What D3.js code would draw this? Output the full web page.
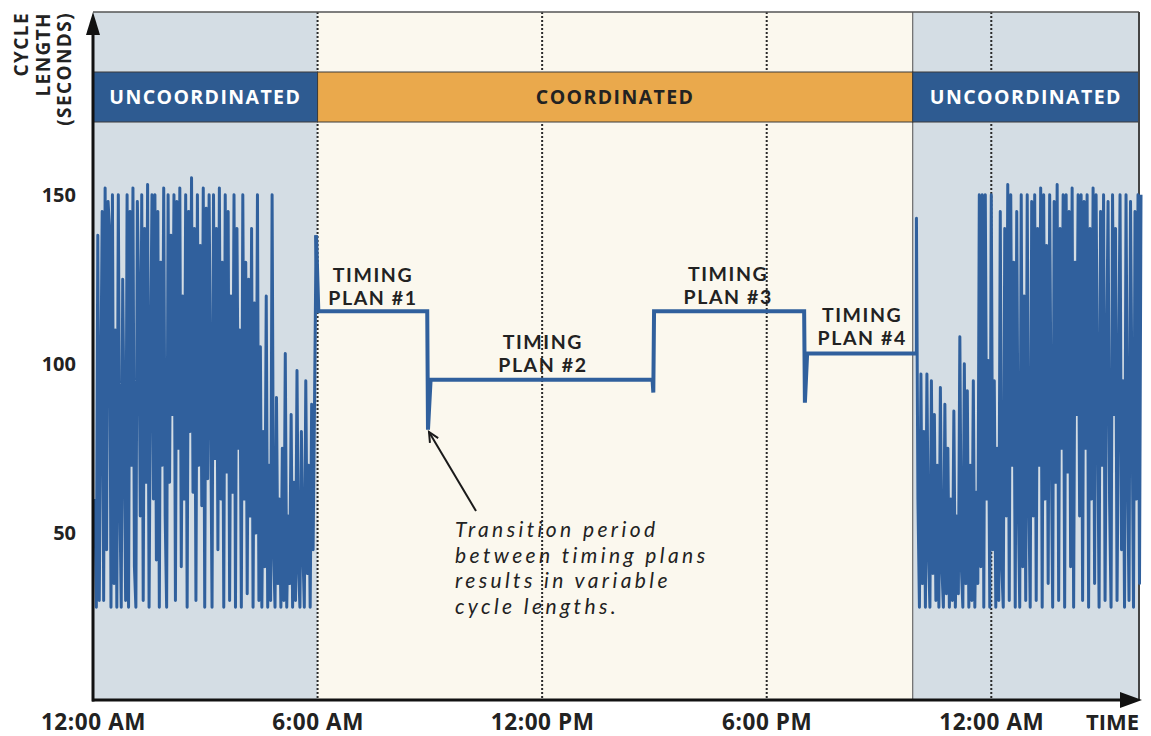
<!DOCTYPE html>
<html>
<head>
<meta charset="utf-8">
<script src="https://cdn.jsdelivr.net/npm/d3@7"></script>
<style>
  body { margin: 0; background: #ffffff; }
  svg { display: block; font-family: "Open Sans", "Noto Sans", sans-serif; }
</style>
</head>
<body>
<script>
// ---------- data ----------
const xTickHours = [0, 6, 12, 18, 24];
const xTickLabels = ["12:00 AM", "6:00 AM", "12:00 PM", "6:00 PM", "12:00 AM"];
const yTicks = [50, 100, 150];

const phaseLabels = ["UNCOORDINATED", "COORDINATED", "UNCOORDINATED"];
const phaseStart = [0, 6, 21.9];
const phaseEnd = [6, 21.9, 28];

// uncoordinated cycle lengths, midnight to ~6 AM (seconds)
const leftHours = [0.05, 5.92];
const leftValues = [
  60, 28, 138, 30, 90, 145, 30, 152, 45, 148,
  140, 28, 150, 35, 110, 28, 150, 62, 28, 125,
  80, 30, 150, 28, 145, 70, 152, 40, 28, 148,
  118, 55, 150, 30, 140, 65, 153, 28, 100, 150,
  60, 150, 42, 145, 28, 130, 70, 152, 55, 28,
  150, 65, 138, 85, 150, 30, 148, 75, 152, 40,
  120, 60, 150, 28, 145, 80, 155, 62, 140, 30,
  150, 70, 135, 58, 152, 28, 146, 66, 150, 90,
  28, 150, 72, 140, 45, 152, 60, 130, 28, 150,
  68, 145, 30, 120, 62, 150, 28, 140, 75, 110,
  28, 150, 60, 130, 32, 125, 55, 140, 28, 118,
  50, 150, 30, 105, 28, 80, 40, 120, 28, 70,
  30, 150, 45, 28, 90, 35, 60, 28, 75, 30,
  103, 28, 55, 35, 85, 28, 65, 30, 98, 40,
  28, 80, 45, 28, 95, 38, 70, 28, 88, 45, 90
];

// coordinated period: timing plans 1-4 with transitions
const coordHours  = [5.96, 6.02, 8.93, 8.95, 9.02, 14.95, 14.97, 14.99, 19.0, 19.02, 19.08, 22.0];
const coordValues = [138, 115.5, 115.5, 80.5, 95.3, 95.3, 91.5, 115.5, 115.5, 88.5, 103, 103];

// uncoordinated cycle lengths, 10 PM to 4 AM
const rightHours = [22.0, 28.0];
const rightValues = [
  143, 60, 28, 97, 35, 80, 28, 97, 45, 28,
  95, 38, 85, 30, 70, 28, 93, 40, 28, 88,
  32, 75, 28, 60, 30, 86, 28, 55, 32, 108,
  40, 28, 100, 35, 92, 28, 70, 30, 95, 28,
  62, 35, 150, 40, 150, 28, 150, 60, 101, 28,
  150, 45, 95, 28, 75, 30, 145, 40, 28, 140,
  55, 153, 30, 150, 70, 130, 28, 145, 60, 28,
  150, 40, 120, 30, 150, 62, 28, 148, 55, 150,
  30, 140, 70, 152, 28, 150, 60, 135, 35, 150,
  80, 28, 148, 65, 153, 30, 140, 75, 150, 28,
  150, 68, 145, 40, 152, 28, 130, 85, 150, 55,
  150, 30, 148, 75, 150, 28, 140, 60, 152, 35,
  150, 90, 28, 145, 70, 150, 30, 100, 148, 60,
  28, 150, 85, 140, 30, 92, 150, 45, 95, 28,
  150, 70, 30, 148, 88, 28, 145, 60, 150, 35, 150
];

const planLabels = ["PLAN #1", "PLAN #2", "PLAN #3", "PLAN #4"];
const planHours = [7.48, 12.02, 16.97, 20.55];
const planValues = [124.2, 104.5, 124.5, 112.4];

const noteLines = ["Transition period", "between timing plans", "results in variable", "cycle lengths."];

// ---------- drawing ----------
const W = 1151, H = 736;
const svg = d3.select("body").append("svg").attr("width", W).attr("height", H);

const x = d3.scaleLinear().domain([0, 28]).range([93, 1141]);
const y = d3.scaleLinear().domain([0, 204]).range([702, 12]);
const plotTop = 12, plotBottom = 700, plotRight = 1139;

const blue = "#30609d";
const bgUnc = "#d4dde4", bgCoord = "#fbf8ee";

// phase backgrounds
svg.selectAll("rect.bg").data(phaseLabels).join("rect")
  .attr("class", "bg")
  .attr("x", (d, i) => x(phaseStart[i]))
  .attr("width", (d, i) => Math.min(x(phaseEnd[i]), plotRight) - x(phaseStart[i]))
  .attr("y", plotTop).attr("height", plotBottom - plotTop)
  .attr("fill", (d, i) => i === 1 ? bgCoord : bgUnc);

// dotted gridlines
svg.selectAll("line.grid").data(xTickHours.slice(1)).join("line")
  .attr("class", "grid")
  .attr("x1", d => x(d)).attr("x2", d => x(d))
  .attr("y1", plotTop).attr("y2", plotBottom)
  .attr("stroke", "#2a2a2a").attr("stroke-width", 2).attr("stroke-dasharray", "2,2");

// boundary line at end of coordination
svg.append("line")
  .attr("x1", x(phaseStart[2])).attr("x2", x(phaseStart[2]))
  .attr("y1", plotTop).attr("y2", plotBottom)
  .attr("stroke", "#6a6a6a").attr("stroke-width", 1.2);

// banners
const bannerTop = 72, bannerBot = 122;
svg.selectAll("rect.banner").data(phaseLabels).join("rect")
  .attr("class", "banner")
  .attr("x", (d, i) => x(phaseStart[i]))
  .attr("width", (d, i) => Math.min(x(phaseEnd[i]), plotRight) - x(phaseStart[i]))
  .attr("y", bannerTop).attr("height", bannerBot - bannerTop)
  .attr("fill", (d, i) => i === 1 ? "#eaa94c" : "#2e5b91")
  .attr("stroke", "#3a3a3a").attr("stroke-width", 1);

svg.selectAll("text.banner").data(phaseLabels).join("text")
  .attr("class", "banner")
  .attr("x", (d, i) => (x(phaseStart[i]) + Math.min(x(phaseEnd[i]), plotRight)) / 2)
  .attr("y", 104)
  .attr("text-anchor", "middle")
  .attr("font-size", 19.5).attr("font-weight", 700)
  .attr("letter-spacing", 1.4)
  .attr("fill", (d, i) => i === 1 ? "#222" : "#ffffff")
  .text(d => d);

// top & right border
svg.append("line").attr("x1", 93).attr("x2", plotRight).attr("y1", plotTop).attr("y2", plotTop)
  .attr("stroke", "#555").attr("stroke-width", 1.5);
svg.append("line").attr("x1", plotRight).attr("x2", plotRight).attr("y1", plotTop).attr("y2", plotBottom)
  .attr("stroke", "#444").attr("stroke-width", 2);

// series
const line = d3.line().x(d => x(d[0])).y(d => y(d[1]));
function spread(range, vals) {
  const n = vals.length;
  return vals.map((v, i) => [range[0] + (range[1] - range[0]) * i / (n - 1), v]);
}
const leftPts = spread(leftHours, leftValues);
const rightPts = spread(rightHours, rightValues);
const coordPts = coordHours.map((h, i) => [h, coordValues[i]]);

svg.append("path").datum(leftPts.concat([coordPts[0]]))
  .attr("d", line).attr("fill", "none").attr("stroke", blue)
  .attr("stroke-width", 3).attr("stroke-linejoin", "round");
svg.append("path").datum([coordPts[coordPts.length - 1]].concat(rightPts))
  .attr("d", line).attr("fill", "none").attr("stroke", blue)
  .attr("stroke-width", 3).attr("stroke-linejoin", "round");
svg.append("path").datum(coordPts)
  .attr("d", line).attr("fill", "none").attr("stroke", blue)
  .attr("stroke-width", 4).attr("stroke-linejoin", "miter");

// timing plan labels (two separate lines)
svg.selectAll("text.plan1").data(planLabels).join("text")
  .attr("class", "plan1")
  .attr("x", (d, i) => x(planHours[i])).attr("y", (d, i) => y(planValues[i]))
  .attr("text-anchor", "middle")
  .attr("font-family", "Lato, sans-serif")
  .attr("font-size", 19.5).attr("font-weight", 700).attr("fill", "#222")
  .attr("letter-spacing", 1.6)
  .text("TIMING");
svg.selectAll("text.plan2").data(planLabels).join("text")
  .attr("class", "plan2")
  .attr("x", (d, i) => x(planHours[i])).attr("y", (d, i) => y(planValues[i]) + 23.5)
  .attr("text-anchor", "middle")
  .attr("font-family", "Lato, sans-serif")
  .attr("font-size", 19.5).attr("font-weight", 700).attr("fill", "#222")
  .attr("letter-spacing", 1.6)
  .text(d => d);

// annotation
svg.append("g").selectAll("text").data(noteLines).join("text")
  .attr("x", 455).attr("y", (d, i) => 537 + i * 25.5)
  .attr("font-family", "Lato, sans-serif")
  .attr("font-size", 21).attr("font-style", "italic").attr("fill", "#222")
  .attr("letter-spacing", 3.4)
  .text(d => d);
const ax0 = 476, ay0 = 511, ax1 = 429, ay1 = 432;
svg.append("line").attr("x1", ax0).attr("y1", ay0).attr("x2", ax1).attr("y2", ay1)
  .attr("stroke", "#1a1a1a").attr("stroke-width", 2);
{
  const ang = Math.atan2(ay1 - ay0, ax1 - ax0);
  const L = 11, spreadA = 0.45;
  const p1 = [ax1 - L * Math.cos(ang - spreadA), ay1 - L * Math.sin(ang - spreadA)];
  const p2 = [ax1 - L * Math.cos(ang + spreadA), ay1 - L * Math.sin(ang + spreadA)];
  svg.append("path").attr("d", `M${p1}L${ax1},${ay1}L${p2}`)
    .attr("fill", "none").attr("stroke", "#1a1a1a").attr("stroke-width", 2);
}

// axes (labels via d3 axes)
const xAxis = d3.axisBottom(x).tickValues(xTickHours).tickFormat((d, i) => xTickLabels[i]).tickSize(0).tickPadding(14);
const gx = svg.append("g").attr("transform", `translate(0,${plotBottom})`).call(xAxis);
gx.select(".domain").remove();
gx.selectAll("text").attr("font-size", 22.5).attr("font-weight", 700).attr("fill", "#222")
  .attr("letter-spacing", 0.6)
  .attr("font-family", "'Open Sans', sans-serif");

const yAxis = d3.axisLeft(y).tickValues(yTicks).tickSize(0).tickPadding(17);
const gy = svg.append("g").attr("transform", "translate(93,0)").call(yAxis);
gy.select(".domain").remove();
gy.selectAll("text").attr("font-size", 20).attr("font-weight", 700).attr("fill", "#222")
  .attr("font-family", "'Open Sans', sans-serif");

// axis lines with arrows
svg.append("line").attr("x1", 93).attr("x2", 93).attr("y1", plotBottom + 1.5).attr("y2", 30)
  .attr("stroke", "#111").attr("stroke-width", 3);
svg.append("path").attr("d", "M93,12L86,35L100,35Z").attr("fill", "#111");
svg.append("line").attr("x1", 92).attr("x2", 1125).attr("y1", plotBottom).attr("y2", plotBottom)
  .attr("stroke", "#111").attr("stroke-width", 3);
svg.append("path").attr("d", `M1142,${plotBottom}L1120,${plotBottom - 8}L1120,${plotBottom + 8}Z`).attr("fill", "#111");

svg.append("text").attr("x", 1139).attr("y", 730).attr("text-anchor", "end")
  .attr("font-size", 22).attr("font-weight", 700).attr("fill", "#222").text("TIME");

// y-axis title
const yTitle = ["CYCLE", "LENGTH", "(SECONDS)"];
const yTitleX = [28, 50, 71];
svg.selectAll("text.ytitle").data(yTitle).join("text")
  .attr("class", "ytitle")
  .attr("transform", (d, i) => `translate(${yTitleX[i]},12) rotate(-90)`)
  .attr("text-anchor", "end")
  .attr("font-size", 19).attr("font-weight", 700).attr("fill", "#222")
  .attr("letter-spacing", 1.4)
  .text(d => d);
</script>
</body>
</html>
